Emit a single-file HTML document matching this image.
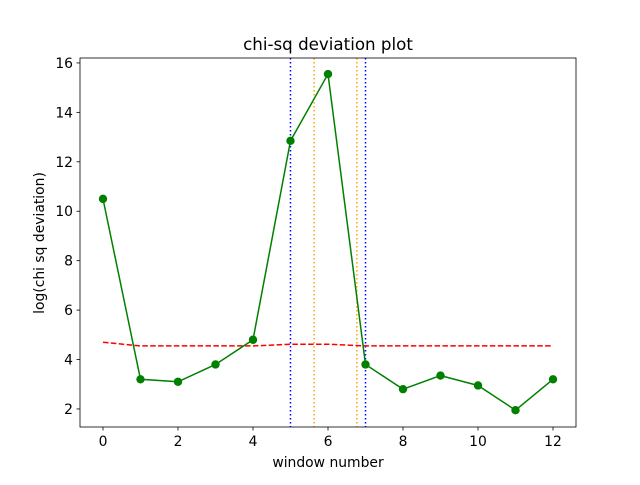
<!DOCTYPE html>
<html><head><meta charset="utf-8"><style>
body{margin:0;background:#fff}
text{font-family:"DejaVu Sans","Liberation Sans",sans-serif;fill:#000}
</style></head><body>
<svg id="chart" width="640" height="480" xmlns="http://www.w3.org/2000/svg">
<rect width="640" height="480" fill="#fff"/>
<text x="328" y="50" font-size="16.7" text-anchor="middle">chi-sq deviation plot</text>
<g id="plot"></g>
<text x="328" y="467" font-size="13.9" text-anchor="middle">window number</text>
<text transform="translate(44,243) rotate(-90)" font-size="13.9" text-anchor="middle">log(chi sq deviation)</text>
</svg>
<script>
const windows=[0,1,2,3,4,5,6,7,8,9,10,11,12];
const chiValues=[10.5,3.2,3.1,3.8,4.8,12.85,15.55,3.8,2.8,3.35,2.95,1.95,3.2];
const thresholdValues=[4.7,4.55,4.55,4.55,4.55,4.62,4.62,4.55,4.55,4.55,4.55,4.55,4.55];
const blueLines=[5,7];
const orangeLines=[5.63,6.77];
const xTicks=[0,2,4,6,8,10,12];
const yTicks=[2,4,6,8,10,12,14,16];
const L=80,R=576,T=58,B=427,xmin=-0.613,xmax=12.613,ymin=1.27,ymax=16.2;
const sx=v=>L+(v-xmin)/(xmax-xmin)*(R-L);
const sy=v=>B-(v-ymin)/(ymax-ymin)*(B-T);
const NS="http://www.w3.org/2000/svg",g=document.getElementById('plot');
function mk(t,a){const e=document.createElementNS(NS,t);for(const k in a)e.setAttribute(k,a[k]);g.appendChild(e);return e;}
blueLines.forEach(v=>{const e=mk('line',{x1:sx(v),x2:sx(v),y1:T,y2:B,stroke:'#0000ff','stroke-width':1.5,'stroke-dasharray':'1.5,2.5'});

});
orangeLines.forEach(v=>{const e=mk('line',{x1:sx(v),x2:sx(v),y1:T,y2:B,stroke:'#ffa500','stroke-width':1.5,'stroke-dasharray':'1.5,2.5'});

});
const th=mk('polyline',{points:windows.map((w,i)=>sx(w)+','+sy(thresholdValues[i])).join(' '),fill:'none',stroke:'#ff0000','stroke-width':1.5,'stroke-dasharray':'5.5,2.4'});


const ln=mk('polyline',{points:windows.map((w,i)=>sx(w)+','+sy(chiValues[i])).join(' '),fill:'none',stroke:'#008000','stroke-width':1.5});


windows.forEach((w,i)=>{const c=mk('circle',{cx:sx(w),cy:sy(chiValues[i]),r:4.2,fill:'#008000'});

});
const fr=mk('rect',{x:L,y:T,width:R-L,height:B-T,fill:'none',stroke:'#000','stroke-width':0.8});


xTicks.forEach(v=>{mk('line',{x1:sx(v),x2:sx(v),y1:B,y2:B+3.5,stroke:'#000','stroke-width':0.8});
const t=mk('text',{x:sx(v),y:B+19,'font-size':13.9,'text-anchor':'middle'});t.textContent=v;

});
yTicks.forEach(v=>{mk('line',{x1:L-3.5,x2:L,y1:sy(v),y2:sy(v),stroke:'#000','stroke-width':0.8});
const t=mk('text',{x:L-7,y:sy(v)+5,'font-size':13.9,'text-anchor':'end'});t.textContent=v;

});
</script>
</body></html>
